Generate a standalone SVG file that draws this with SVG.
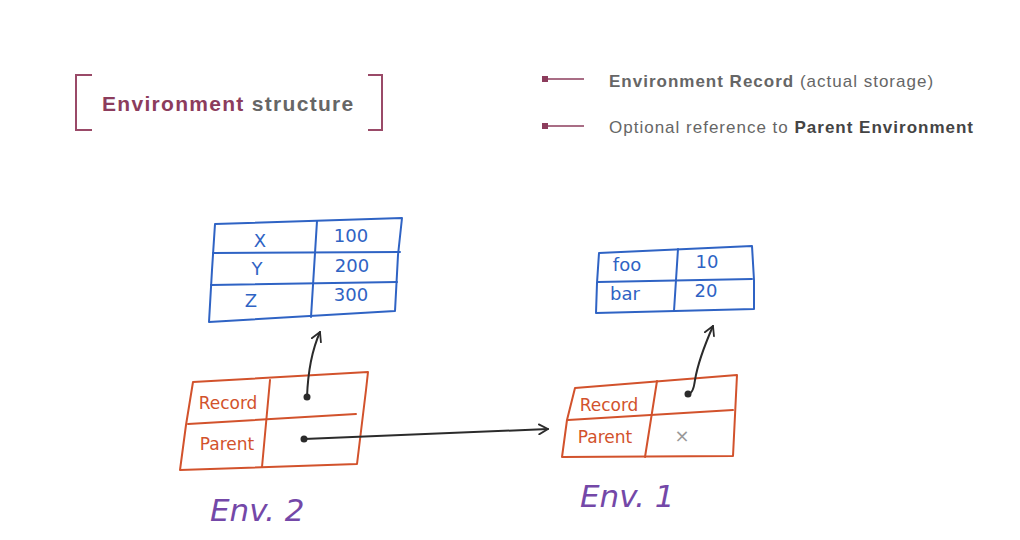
<svg xmlns="http://www.w3.org/2000/svg" width="1020" height="540" viewBox="0 0 1020 540">
  <style>
    .bracket { fill: none; stroke: #9a4a68; stroke-width: 2; }
    .title { font-family: "Liberation Sans", Arial, sans-serif; font-size: 21px; font-weight: bold; letter-spacing: 1.3px; }
    .legend { font-family: "Liberation Sans", Arial, sans-serif; font-size: 17px; fill: #666; letter-spacing: 1px; }
    .blue { fill: none; stroke: #2f63c4; stroke-width: 2; stroke-linejoin: round; stroke-linecap: round; }
    .orange { fill: none; stroke: #d2522c; stroke-width: 2; stroke-linejoin: round; stroke-linecap: round; }
    .hand-blue { font-family: "DejaVu Sans", sans-serif; font-size: 18px; fill: #2f63c4; }
    .hand-orange { font-family: "DejaVu Sans", sans-serif; font-size: 17px; fill: #d2522c; }
    .env { font-family: "DejaVu Sans", sans-serif; font-size: 31px; fill: #7448a8; font-style: italic; }
    .link { fill: none; stroke: #2b2b2b; stroke-width: 2; stroke-linecap: round; }
    .dot { fill: #2b2b2b; }
  </style>
  <defs>
    <marker id="open-arrow" viewBox="0 0 12 12" refX="10" refY="6" markerWidth="12" markerHeight="12" markerUnits="userSpaceOnUse" orient="auto">
      <path d="M1,1 L10,6 L1,11" fill="none" stroke="#2b2b2b" stroke-width="1.8" stroke-linecap="round" stroke-linejoin="round"/>
    </marker>
  </defs>
  <rect width="1020" height="540" fill="#ffffff"/>

  <!-- heading -->
  <g id="heading">
    <path class="bracket" d="M92,75 L76,75 L76,130 L92,130"/>
    <path class="bracket" d="M368,75 L382,75 L382,130 L368,130"/>
    <text class="title" x="102" y="111"><tspan fill="#8c3c5c">Environment</tspan><tspan fill="#666"> structure</tspan></text>
  </g>

  <!-- legend -->
  <g id="legend">
    <rect x="542" y="76" width="6" height="6" fill="#8c3c5c"/>
    <line x1="548" y1="79" x2="584" y2="79" stroke="#8c3c5c" stroke-width="1.5"/>
    <text class="legend" x="609" y="87"><tspan font-weight="bold">Environment Record</tspan> (actual storage)</text>
    <rect x="542" y="123" width="6" height="6" fill="#8c3c5c"/>
    <line x1="548" y1="126" x2="584" y2="126" stroke="#8c3c5c" stroke-width="1.5"/>
    <text class="legend" x="609" y="133">Optional reference to <tspan font-weight="bold" fill="#444">Parent Environment</tspan></text>
  </g>

  <!-- record of Env. 2 -->
  <g id="record-env2">
    <path class="blue" d="M215,224 L402,218 L398,255 L395,311 L209,322 L212,270 Z"/>
    <path class="blue" d="M317,221 L311,317"/>
    <path class="blue" d="M213,253 L400,252"/>
    <path class="blue" d="M211,285 L397,282"/>
    <text class="hand-blue" x="260" y="247" text-anchor="middle">X</text>
    <text class="hand-blue" x="351" y="242" text-anchor="middle">100</text>
    <text class="hand-blue" x="257" y="275" text-anchor="middle">Y</text>
    <text class="hand-blue" x="352" y="272" text-anchor="middle">200</text>
    <text class="hand-blue" x="251" y="307" text-anchor="middle">Z</text>
    <text class="hand-blue" x="351" y="301" text-anchor="middle">300</text>
  </g>

  <!-- record of Env. 1 -->
  <g id="record-env1">
    <path class="blue" d="M599,253 L752,246 L754,280 L754,309 L596,313 L597,283 Z"/>
    <path class="blue" d="M678,249 L674,311"/>
    <path class="blue" d="M598,282 L752,279"/>
    <text class="hand-blue" x="627" y="271" text-anchor="middle">foo</text>
    <text class="hand-blue" x="707" y="268" text-anchor="middle">10</text>
    <text class="hand-blue" x="625" y="300" text-anchor="middle">bar</text>
    <text class="hand-blue" x="706" y="297" text-anchor="middle">20</text>
  </g>

  <!-- environment 2 -->
  <g id="env2">
    <path class="orange" d="M193,382 L368,372 L366,390 L357,464 L180,470 L186,425 Z"/>
    <path class="orange" d="M270,380 L262,467"/>
    <path class="orange" d="M188,424 L356,414"/>
    <text class="hand-orange" x="228" y="409" text-anchor="middle">Record</text>
    <text class="hand-orange" x="227" y="450" text-anchor="middle">Parent</text>
    <circle class="dot" cx="307" cy="397" r="3.5"/>
    <circle class="dot" cx="304" cy="439" r="3.5"/>
    <text class="env" x="210" y="521">Env. 2</text>
  </g>

  <!-- environment 1 -->
  <g id="env1">
    <path class="orange" d="M575,388 L737,375 L736,395 L733,456 L562,457 L567,420 Z"/>
    <path class="orange" d="M657,381 L645,457"/>
    <path class="orange" d="M568,420 L733,410"/>
    <text class="hand-orange" x="609" y="411" text-anchor="middle">Record</text>
    <text class="hand-orange" x="605" y="443" text-anchor="middle">Parent</text>
    <text x="682" y="442" text-anchor="middle" font-family="DejaVu Sans, sans-serif" font-size="18" fill="#999">×</text>
    <circle class="dot" cx="688" cy="394" r="3.5"/>
    <text class="env" x="580" y="507">Env. 1</text>
  </g>

  <!-- references -->
  <g id="connectors">
    <path class="link" d="M307,397 C308,370 312,350 320,332" marker-end="url(#open-arrow)"/>
    <path class="link" d="M304,439 L548,429" marker-end="url(#open-arrow)"/>
    <path class="link" d="M688,394 C692,394 694,388 695,380 C698,362 706,342 713,326" marker-end="url(#open-arrow)"/>
  </g>
</svg>
